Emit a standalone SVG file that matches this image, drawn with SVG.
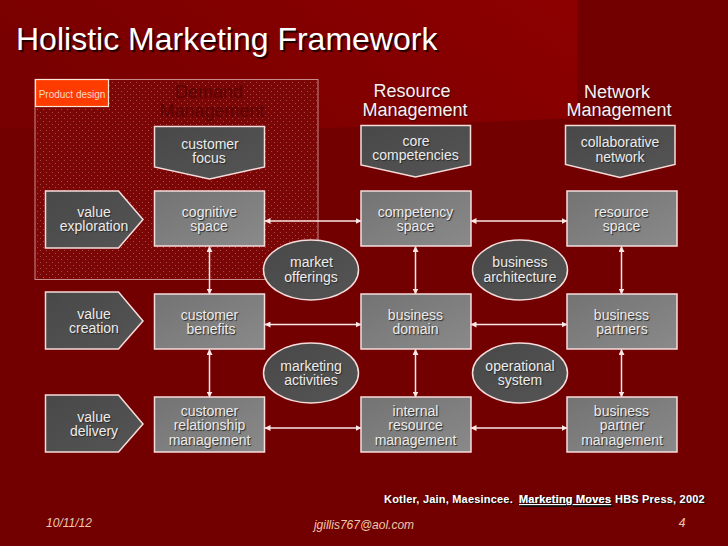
<svg xmlns="http://www.w3.org/2000/svg" width="728" height="546" viewBox="0 0 728 546">
<style>
text{font-family:"Liberation Sans",Arial,sans-serif;text-anchor:middle}
.n{font-size:14px;fill:#ececec;text-shadow:1px 1px 1px #2a2a2a}
.h{font-size:18px;fill:#f8f0f0;text-shadow:1px 1px 1px #3a0000}
.f{font-size:12px;font-style:italic;fill:#ecc9ad}
.dk{fill:url(#dark);stroke:#f7dcdc;stroke-width:1.500}
.lt{fill:url(#light);stroke:#f7dcdc;stroke-width:1.500}
.c{stroke:#fbe6e6;stroke-width:1.500;fill:none;marker-start:url(#a);marker-end:url(#a)}
</style>
<defs>
<linearGradient id="bg" x1="0" y1="0.5" x2="1" y2="0.2"><stop offset="0" stop-color="#780000"/><stop offset="1" stop-color="#8c0000"/></linearGradient>
<linearGradient id="dark" x1="0" y1="0" x2="1" y2="1"><stop offset="0" stop-color="#484848"/><stop offset="1" stop-color="#555"/></linearGradient>
<linearGradient id="light" x1="0" y1="0" x2="1" y2="1"><stop offset="0" stop-color="#737373"/><stop offset="1" stop-color="#8a8a8a"/></linearGradient>
<pattern id="dots" width="6" height="6" patternUnits="userSpaceOnUse"><rect width="6" height="6" fill="#7a0606"/><rect x="1" y="1" width="1" height="1" fill="#a84848"/><rect x="4" y="4" width="1" height="1" fill="#a84848"/></pattern>
<marker id="a" viewBox="0 0 6 6" refX="5.500" refY="3" markerWidth="6" markerHeight="6" markerUnits="userSpaceOnUse" orient="auto-start-reverse"><path d="M0 0L6 3L0 6z" fill="#fbe6e6"/></marker>
</defs>
<rect width="728" height="546" fill="#730000"/>
<path d="M0 0H577V118L330 128H0z" fill="url(#bg)"/>
<g id="title"><text x="16" y="50" font-size="32" fill="#fff" style="text-anchor:start;text-shadow:2px 2px 1px #1c0000">Holistic Marketing Framework</text></g>
<g id="product-design-area"><rect x="35" y="79.500" width="283" height="200" fill="url(#dots)" stroke="#c98a8a" stroke-width="1"/></g>
<g id="product-design"><rect x="35.500" y="79.500" width="73" height="27" fill="#ff3c00" stroke="#fbe6d8" stroke-width="1.200"/><text x="72" y="97.500" font-size="10" fill="#fbd6c4">Product design</text></g>
<g id="demand-management"><text font-size="18" fill="#5c0202"><tspan x="209" y="98">Demand</tspan><tspan x="212" y="116.500">Management</tspan></text></g>
<g id="resource-management"><text class="h"><tspan x="412" y="97">Resource</tspan><tspan x="415" y="116">Management</tspan></text></g>
<g id="network-management"><text class="h"><tspan x="617" y="98">Network</tspan><tspan x="619" y="116">Management</tspan></text></g>

<g id="connectors">
<path class="c" d="M265 221H361"/><path class="c" d="M471 221H567"/>
<path class="c" d="M265 324.500H361"/><path class="c" d="M471 324.500H567"/>
<path class="c" d="M265 428H361"/><path class="c" d="M471 428H567"/>
<path class="c" d="M209.500 246.500V294"/><path class="c" d="M415.500 246.500V294"/><path class="c" d="M621.500 246.500V294"/>
<path class="c" d="M209.500 349.500V397"/><path class="c" d="M415.500 349.500V397"/><path class="c" d="M621.500 349.500V397"/>
</g>

<g id="customer-focus"><path class="dk" d="M154.500 126.500H264.500V167L209.500 179L154.500 167z"/><text class="n"><tspan x="210" y="149">customer</tspan><tspan x="209" y="163">focus</tspan></text></g>
<g id="core-competencies"><path class="dk" d="M361 125.500H470.500V165L415.500 177L361 165z"/><text class="n"><tspan x="416" y="146">core</tspan><tspan x="415.500" y="159.500">competencies</tspan></text></g>
<g id="collaborative-network"><path class="dk" d="M565.500 125.500H675V164.500L620 177.500L565.500 164.500z"/><text class="n"><tspan x="620" y="146.500">collaborative</tspan><tspan x="620" y="161.500">network</tspan></text></g>

<g id="value-exploration"><path class="dk" d="M45.500 191H118.500L143 219.500L118.500 248H45.500z"/><text class="n"><tspan x="94" y="217">value</tspan><tspan x="94" y="231">exploration</tspan></text></g>
<g id="value-creation"><path class="dk" d="M45.500 292H118.500L143 321L118.500 349H45.500z"/><text class="n"><tspan x="94" y="318.500">value</tspan><tspan x="94" y="332.500">creation</tspan></text></g>
<g id="value-delivery"><path class="dk" d="M45.500 395H118.500L143 424L118.500 452H45.500z"/><text class="n"><tspan x="94" y="421.500">value</tspan><tspan x="94" y="435.500">delivery</tspan></text></g>

<g id="cognitive-space"><rect class="lt" x="154.500" y="191" width="110" height="55"/><text class="n"><tspan x="209.500" y="216.500">cognitive</tspan><tspan x="209" y="230.500">space</tspan></text></g>
<g id="competency-space"><rect class="lt" x="361" y="191" width="110" height="55"/><text class="n"><tspan x="415.500" y="216.500">competency</tspan><tspan x="415.500" y="230.500">space</tspan></text></g>
<g id="resource-space"><rect class="lt" x="567" y="191" width="110" height="55"/><text class="n"><tspan x="621.500" y="216.500">resource</tspan><tspan x="621.500" y="230.500">space</tspan></text></g>

<g id="customer-benefits"><rect class="lt" x="154.500" y="294" width="110" height="55"/><text class="n"><tspan x="209.500" y="319.500">customer</tspan><tspan x="211" y="333.500">benefits</tspan></text></g>
<g id="business-domain"><rect class="lt" x="361" y="294" width="110" height="55"/><text class="n"><tspan x="415.500" y="319.500">business</tspan><tspan x="415.500" y="333.500">domain</tspan></text></g>
<g id="business-partners"><rect class="lt" x="567" y="294" width="110" height="55"/><text class="n"><tspan x="621.500" y="319.500">business</tspan><tspan x="622" y="333.500">partners</tspan></text></g>

<g id="customer-relationship-management"><rect class="lt" x="154.500" y="397" width="110" height="55"/><text class="n"><tspan x="209.500" y="415.500">customer</tspan><tspan x="209.500" y="430">relationship</tspan><tspan x="209.500" y="445">management</tspan></text></g>
<g id="internal-resource-management"><rect class="lt" x="361" y="397" width="110" height="55"/><text class="n"><tspan x="415.500" y="415.500">internal</tspan><tspan x="415.500" y="430">resource</tspan><tspan x="415.500" y="445">management</tspan></text></g>
<g id="business-partner-management"><rect class="lt" x="567" y="397" width="110" height="55"/><text class="n"><tspan x="621.500" y="415.500">business</tspan><tspan x="622" y="430">partner</tspan><tspan x="622" y="445">management</tspan></text></g>

<g id="market-offerings"><ellipse class="dk" cx="311" cy="270" rx="47.500" ry="30"/><text class="n"><tspan x="311.500" y="267">market</tspan><tspan x="311" y="282">offerings</tspan></text></g>
<g id="business-architecture"><ellipse class="dk" cx="520" cy="270" rx="47.500" ry="30"/><text class="n"><tspan x="520" y="267">business</tspan><tspan x="520" y="282">architecture</tspan></text></g>
<g id="marketing-activities"><ellipse class="dk" cx="311" cy="373" rx="47.500" ry="30"/><text class="n"><tspan x="311" y="371">marketing</tspan><tspan x="311" y="385">activities</tspan></text></g>
<g id="operational-system"><ellipse class="dk" cx="520" cy="373" rx="47.500" ry="30"/><text class="n"><tspan x="520" y="371">operational</tspan><tspan x="520" y="385">system</tspan></text></g>

<g id="citation"><text y="503" font-size="11" font-weight="bold" fill="#fff" letter-spacing="0.200" style="text-anchor:start;text-shadow:1px 1px 0 #111"><tspan x="384">Kotler, Jain, Maesincee.</tspan><tspan x="519" text-decoration="underline">Marketing Moves</tspan><tspan x="615">HBS Press, 2002</tspan></text></g>
<g id="footer"><text class="f" x="69" y="527">10/11/12</text><text class="f" x="364" y="529">jgillis767@aol.com</text><text class="f" x="682" y="527">4</text></g>
</svg>
